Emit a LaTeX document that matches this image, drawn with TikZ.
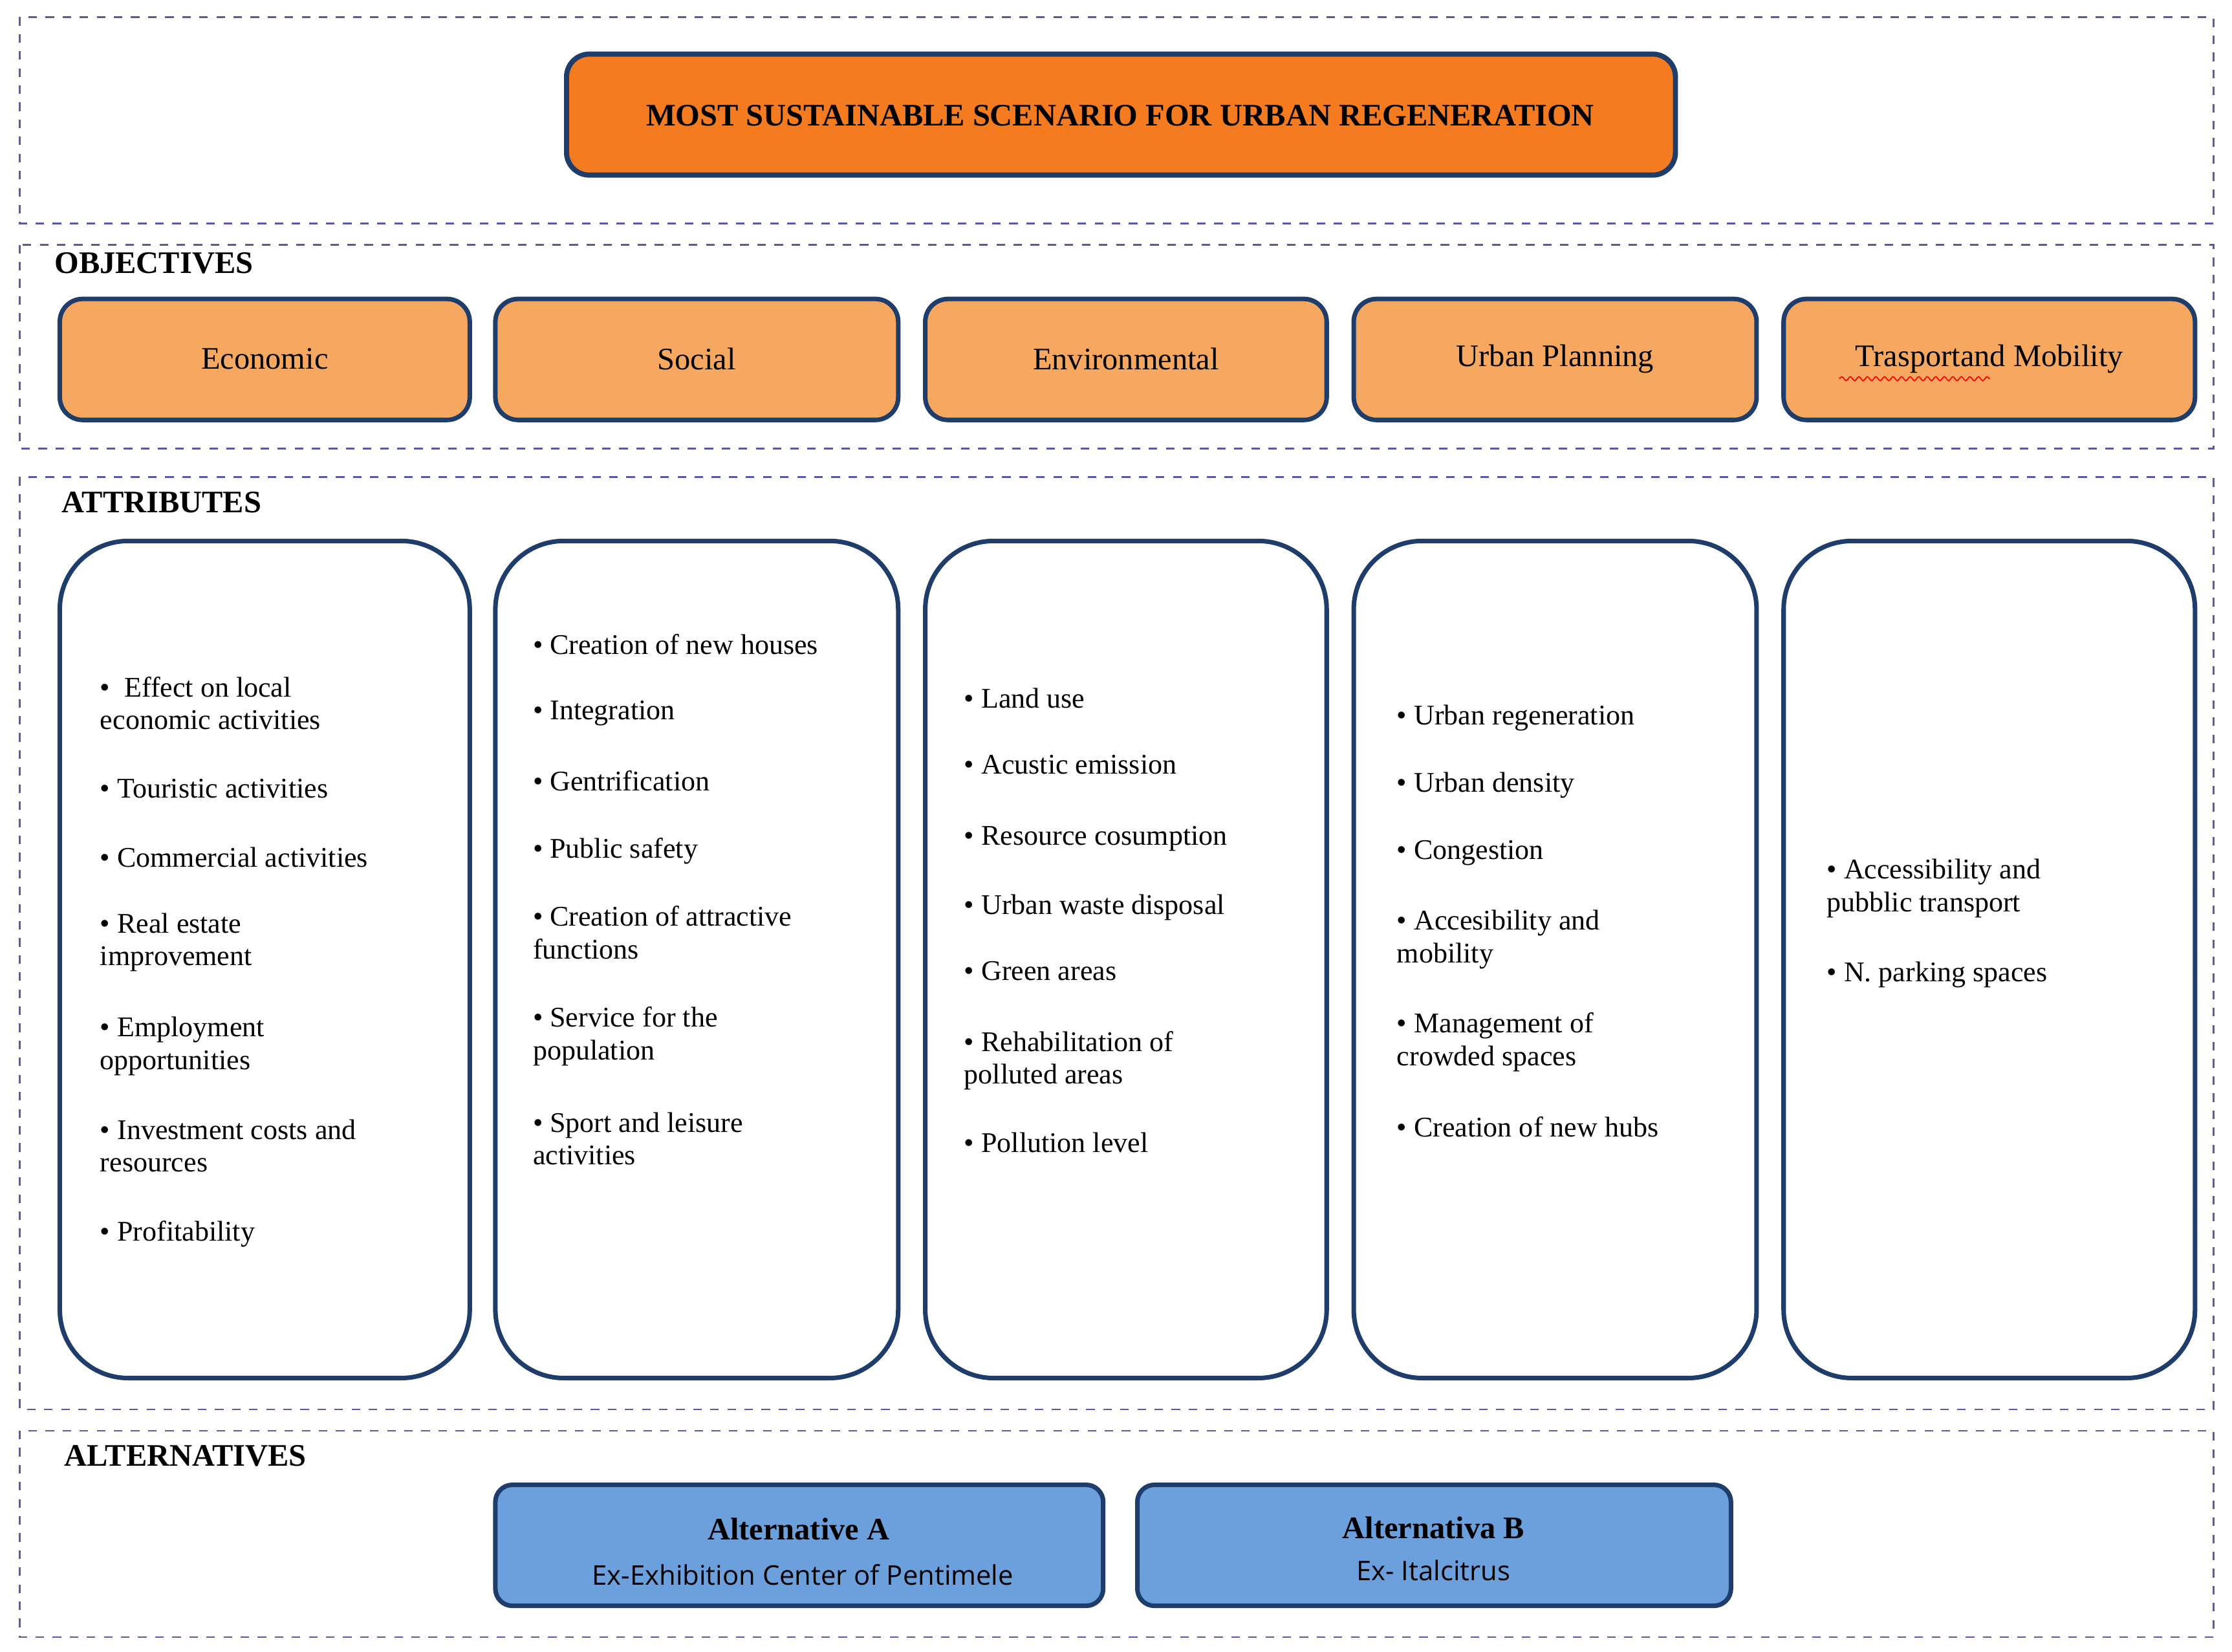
\documentclass[tikz,border=0pt]{standalone}
\usepackage{fontspec}
\setmainfont{Liberation Serif}
\newfontfamily\altsans{Open Sans}
\usetikzlibrary{decorations.pathmorphing}
\definecolor{boxblue}{HTML}{1F3D6B}
\definecolor{titleorange}{HTML}{F47B20}
\definecolor{objorange}{HTML}{F6A860}
\definecolor{altblue}{HTML}{6CA0DC}
\tikzset{
  frame/.style={draw=gray!70!blue, dashed, line width=0.6pt},
  objbox/.style={draw=boxblue, line width=1.6pt, fill=objorange, rounded corners=8pt},
  attbox/.style={draw=boxblue, line width=1.6pt, rounded corners=24pt},
  altbox/.style={draw=boxblue, line width=1.6pt, fill=altblue, rounded corners=6pt},
  item/.style={anchor=north west, inner sep=0pt, align=left, font=\fontsize{10}{11.5}\selectfont},
  head/.style={anchor=north west, inner sep=0pt, font=\fontsize{11}{13}\selectfont\bfseries}
}
\begin{document}
\begin{tikzpicture}[x=0.5pt,y=-0.5pt]
\useasboundingbox (0,0) rectangle (1568,1160);

% dashed frames
\draw[frame] (14,12) rectangle (1555,157);
\draw[frame] (14,172) rectangle (1555,315);
\draw[frame] (14,335) rectangle (1555,990);
\draw[frame] (14,1005) rectangle (1555,1150);

% goal
\draw[draw=boxblue, line width=1.8pt, fill=titleorange, rounded corners=8pt, drop shadow/.try] (398,38) rectangle (1177,123);
\node[font=\fontsize{11}{13}\selectfont\bfseries] (goal) at (787,81) {MOST SUSTAINABLE SCENARIO FOR URBAN REGENERATION};

% section headings
\node[head] (hobj) at (38,177) {OBJECTIVES};
\node[head] (hatt) at (43,345) {ATTRIBUTES};
\node[head] (halt) at (45,1015) {ALTERNATIVES};

% objectives and attribute columns
\foreach \xa/\xb/\lab/\nm in {42/330/Economic/eco, 348/631/Social/soc, 650/932/Environmental/env, 951/1234/Urban Planning/urb, 1253/1542/Trasportand Mobility/tra}{
  \draw[objbox] (\xa,210) rectangle (\xb,295);
  \node[font=\fontsize{11}{13}\selectfont] (obj-\nm) at ({(\xa+\xb)/2},252) {\lab};
  \draw[attbox] (\xa,380) rectangle (\xb,968);
}
\draw[red, decorate, decoration={snake, amplitude=0.7pt, segment length=3pt}] (1292,266) -- (1398,266);

% Economic
\foreach \y/\t [count=\i] in {475/{\textbullet\ \ Effect on local\\economic activities}, 547/{\textbullet\ Touristic activities}, 595/{\textbullet\ Commercial activities}, 641/{\textbullet\ Real estate\\improvement}, 714/{\textbullet\ Employment\\opportunities}, 786/{\textbullet\ Investment costs and\\resources}, 857/{\textbullet\ Profitability}}
  \node[item] (eco-\i) at (70,\y) {\t};
% Social
\foreach \y/\t [count=\i] in {445/{\textbullet\ Creation of new houses}, 492/{\textbullet\ Integration}, 541/{\textbullet\ Gentrification}, 588/{\textbullet\ Public safety}, 636/{\textbullet\ Creation of attractive\\functions}, 707/{\textbullet\ Service for the\\population}, 781/{\textbullet\ Sport and leisure\\activities}}
  \node[item] (soc-\i) at (374,\y) {\t};
% Environmental
\foreach \y/\t [count=\i] in {483/{\textbullet\ Land use}, 530/{\textbullet\ Acustic emission}, 580/{\textbullet\ Resource cosumption}, 628/{\textbullet\ Urban waste disposal}, 675/{\textbullet\ Green areas}, 724/{\textbullet\ Rehabilitation of\\polluted areas}, 795/{\textbullet\ Pollution level}}
  \node[item] (env-\i) at (677,\y) {\t};
% Urban planning
\foreach \y/\t [count=\i] in {495/{\textbullet\ Urban regeneration}, 542/{\textbullet\ Urban density}, 590/{\textbullet\ Congestion}, 639/{\textbullet\ Accesibility and\\mobility}, 711/{\textbullet\ Management of\\crowded spaces}, 784/{\textbullet\ Creation of new hubs}}
  \node[item] (urb-\i) at (981,\y) {\t};
% Transport
\foreach \y/\t [count=\i] in {603/{\textbullet\ Accessibility and\\pubblic transport}, 675/{\textbullet\ N. parking spaces}}
  \node[item] (tra-\i) at (1283,\y) {\t};

% alternatives
\draw[altbox] (348,1043) rectangle (775,1128);
\draw[altbox] (799,1043) rectangle (1216,1128);
\node[font=\fontsize{11}{13}\selectfont\bfseries] (altA) at (561,1074) {Alternative A};
\node[font=\altsans\fontsize{9.5}{11}\selectfont] (altA-sub) at (564,1106) {Ex-Exhibition Center of Pentimele};
\node[font=\fontsize{11}{13}\selectfont\bfseries] (altB) at (1007,1073) {Alternativa B};
\node[font=\altsans\fontsize{9.5}{11}\selectfont] (altB-sub) at (1007,1103) {Ex- Italcitrus};
\end{tikzpicture}
\end{document}
